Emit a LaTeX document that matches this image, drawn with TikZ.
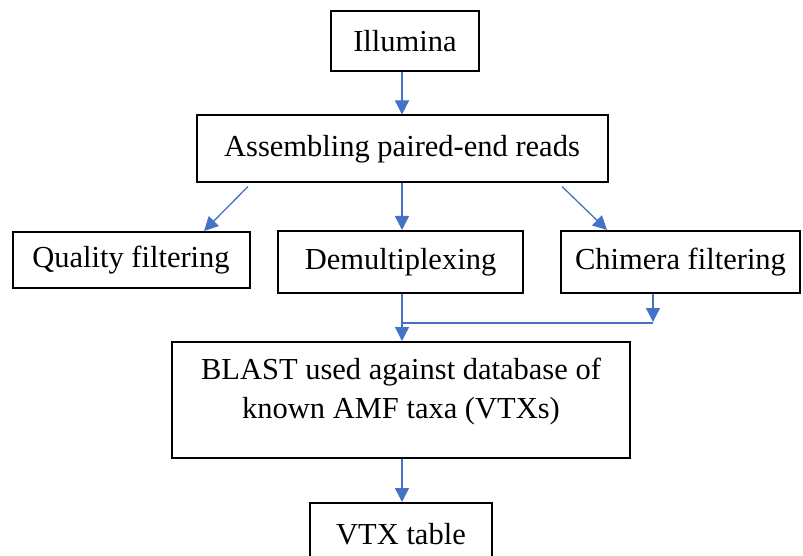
\documentclass[tikz,border=0pt]{standalone}
\usepackage{fontspec}
\setmainfont{Liberation Serif}
\usetikzlibrary{arrows.meta,calc}
\definecolor{arrblue}{RGB}{68,114,196}
\begin{document}
\begin{tikzpicture}[x=1pt,y=-1pt,
  box/.style={draw=black,line width=2pt,inner sep=0pt,font=\fontsize{30.5}{39}\selectfont},
  txt/.style={inner sep=0pt,align=center,font=\fontsize{30.5}{39}\selectfont},
  arr/.style={draw=arrblue,line width=1.3pt,-{Triangle[length=14pt,width=14pt]}},
  conn/.style={draw=arrblue,line width=1.3pt}]
\useasboundingbox (0,0) rectangle (803,556);
\clip (0,0) rectangle (803,556);
\node[box,minimum width=148pt,minimum height=60pt] (ill) at (405,41) {Illumina};
\node[box,minimum width=411pt,minimum height=67pt] (asm) at (402,149) {Assembling paired-end reads};
\node[box,minimum width=237pt,minimum height=56pt] (qual) at (131,260) {Quality filtering};
\node[box,minimum width=245pt,minimum height=62pt] (demux) at (400.5,262) {Demultiplexing};
\node[box,minimum width=239pt,minimum height=62pt] (chim) at (680.5,262) {Chimera filtering};
\node[box,minimum width=458pt,minimum height=116pt] (blast) at (401,400) {};
\node[txt] (blasttext) at (401,392) {BLAST used against database of\\known AMF taxa (VTXs)};
\node[box,minimum width=182pt,minimum height=62pt] (vtx) at (401,534) {VTX table};
% connectors
\draw[arr] (ill.south -| 402,0) -- (asm.north -| 402,0);
\draw[arr] ($(asm.south)+(-154,3)$) -- ($(qual.north)+(73,0)$);
\draw[arr] (asm.south) -- (asm.south |- demux.north);
\draw[arr] ($(asm.south)+(160,3)$) -- ($(chim.north)+(-73.5,0)$);
\coordinate (j) at (653,323);
\draw[arr] (chim.south -| j) -- ($(j)+(0,-1)$);
\draw[conn] (demux.south -| 402,0) |- (j);
\draw[arr] (demux.south -| 402,0) -- (blast.north -| 402,0);
\draw[arr] (blast.south -| 402,0) -- (vtx.north -| 402,0);
\end{tikzpicture}
\end{document}
